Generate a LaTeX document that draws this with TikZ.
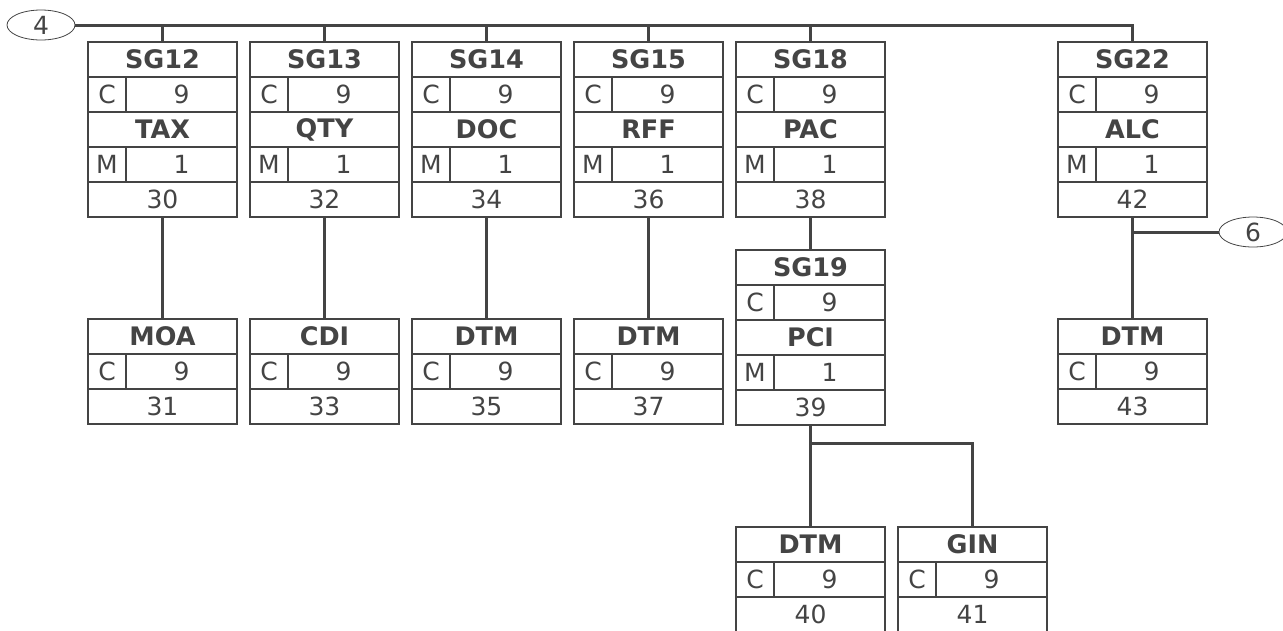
\documentclass[tikz,border=0pt]{standalone}
\usepackage{fontspec}
\setmainfont{DejaVu Sans}
\usetikzlibrary{calc, shapes.geometric}
\definecolor{ink}{HTML}{444444}

\tikzset{
	cell/.style={draw=ink, line width=1.6pt, text=ink, inner sep=0pt, outer sep=0pt,
		minimum height=35pt, anchor=north west, font=\fontsize{25}{25}\selectfont},
	tagcell/.style={cell, minimum width=149pt, font=\fontsize{25.5}{25}\selectfont\bfseries},
	stcell/.style={cell, minimum width=38pt},
	repcell/.style={cell, minimum width=111pt},
	poscell/.style={cell, minimum width=149pt},
	conn/.style={draw=ink, line width=3pt},
	oval/.style={ellipse, draw=ink, line width=0.8pt, text=ink, inner sep=0pt,
		minimum width=68pt, minimum height=30pt, font=\fontsize{25}{25}\selectfont}
}

% group header: id, x, y, group, status, repeat
\newcommand{\grpbox}[6]{%
	\node[tagcell] (#1) at (#2,#3) {#4};
	\node[stcell] (#1-st) at (#2,#3+35) {#5};
	\node[repcell] (#1-rep) at (#2+38,#3+35) {#6};}
% segment: id, x, y, tag, status, repeat, position
\newcommand{\segbox}[7]{%
	\node[tagcell] (#1) at (#2,#3) {#4};
	\node[stcell] (#1-st) at (#2,#3+35) {#5};
	\node[repcell] (#1-rep) at (#2+38,#3+35) {#6};
	\node[poscell] (#1-pos) at (#2,#3+70) {#7};}

\begin{document}
\begin{tikzpicture}[x=1pt, y=-1pt]
	\useasboundingbox (0,0) rectangle (1283,630);

	\node[oval] (o4) at (41,25) {4};
	\node[oval] (o6) at (1253,232) {6};

	% groups on the top line
	\grpbox{sg12}{88}{42}{SG12}{C}{9}
	\segbox{tax}{88}{112}{TAX}{M}{1}{30}
	\grpbox{sg13}{250}{42}{SG13}{C}{9}
	\segbox{qty}{250}{112}{QTY}{M}{1}{32}
	\grpbox{sg14}{412}{42}{SG14}{C}{9}
	\segbox{doc}{412}{112}{DOC}{M}{1}{34}
	\grpbox{sg15}{574}{42}{SG15}{C}{9}
	\segbox{rff}{574}{112}{RFF}{M}{1}{36}
	\grpbox{sg18}{736}{42}{SG18}{C}{9}
	\segbox{pac}{736}{112}{PAC}{M}{1}{38}
	\grpbox{sg22}{1058}{42}{SG22}{C}{9}
	\segbox{alc}{1058}{112}{ALC}{M}{1}{42}

	% second level
	\segbox{moa}{88}{319}{MOA}{C}{9}{31}
	\segbox{cdi}{250}{319}{CDI}{C}{9}{33}
	\segbox{dtm35}{412}{319}{DTM}{C}{9}{35}
	\segbox{dtm37}{574}{319}{DTM}{C}{9}{37}
	\grpbox{sg19}{736}{250}{SG19}{C}{9}
	\segbox{pci}{736}{320}{PCI}{M}{1}{39}
	\segbox{dtm43}{1058}{319}{DTM}{C}{9}{43}

	% third level
	\segbox{dtm40}{736}{527}{DTM}{C}{9}{40}
	\segbox{gin}{898}{527}{GIN}{C}{9}{41}

	% connectors
	\draw[conn] (o4.east) -| (sg22.north);
	\foreach \g in {sg12, sg13, sg14, sg15, sg18}
		\draw[conn] (\g.north) -- (\g.north |- o4.east);
	\draw[conn] (tax-pos.south) -- (moa.north);
	\draw[conn] (qty-pos.south) -- (cdi.north);
	\draw[conn] (doc-pos.south) -- (dtm35.north);
	\draw[conn] (rff-pos.south) -- (dtm37.north);
	\draw[conn] (pac-pos.south) -- (sg19.north);
	\draw[conn] (pci-pos.south) -- (dtm40.north);
	\draw[conn] ($(pci-pos.south)+(0,18)$) -| (gin.north);
	\draw[conn] (alc-pos.south) -- (dtm43.north);
	\draw[conn] (alc-pos.south |- o6.west) -- (o6.west);
\end{tikzpicture}
\end{document}
